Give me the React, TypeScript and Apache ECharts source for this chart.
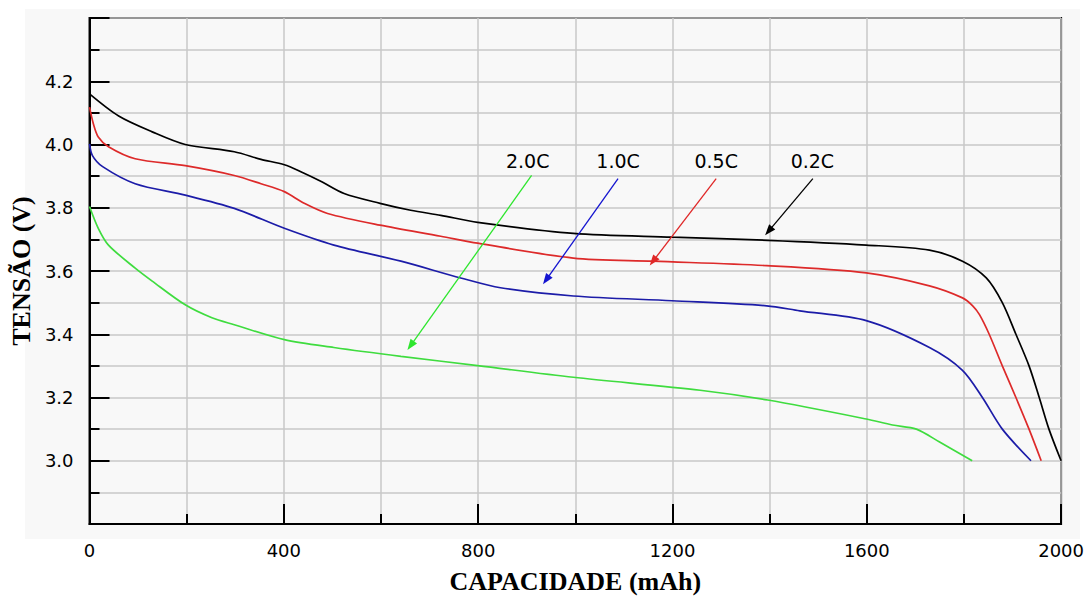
import React, { useEffect, useRef } from "react";
import * as echarts from "echarts";

// Discharge curves: capacity (mAh) and voltage (V)
const c02 = [0, 60, 129, 197, 298, 353, 401, 435, 477, 524, 598, 661, 723, 799, 996, 1199, 1396, 1599, 1729, 1797, 1846, 1879, 1907, 1934, 1955, 1975, 2000];
const v02 = [4.16, 4.09, 4.04, 4.0, 3.977, 3.953, 3.936, 3.914, 3.883, 3.845, 3.814, 3.792, 3.776, 3.754, 3.719, 3.707, 3.697, 3.682, 3.666, 3.631, 3.578, 3.5, 3.4, 3.3, 3.2, 3.1, 3.0];

const c05 = [0, 8, 18, 39, 94, 197, 298, 353, 401, 442, 490, 598, 723, 799, 996, 1160, 1394, 1599, 1729, 1797, 1818, 1832, 1852, 1879, 1907, 1934, 1959];
const v05 = [4.118, 4.065, 4.024, 3.993, 3.955, 3.933, 3.902, 3.876, 3.851, 3.814, 3.782, 3.745, 3.71, 3.688, 3.641, 3.631, 3.617, 3.594, 3.553, 3.515, 3.49, 3.462, 3.4, 3.3, 3.2, 3.1, 3.0];

const c10 = [0, 6, 27, 94, 197, 298, 401, 503, 641, 764, 846, 996, 1199, 1394, 1462, 1599, 1729, 1797, 1838, 1879, 1938];
const v10 = [4.002, 3.965, 3.93, 3.876, 3.84, 3.798, 3.735, 3.682, 3.631, 3.578, 3.547, 3.521, 3.506, 3.49, 3.474, 3.443, 3.358, 3.286, 3.2, 3.1, 3.0];

const c20 = [0, 18, 39, 94, 129, 197, 252, 298, 401, 503, 641, 799, 996, 1257, 1396, 1599, 1653, 1702, 1749, 1817];
const v20 = [3.804, 3.735, 3.682, 3.609, 3.568, 3.493, 3.452, 3.43, 3.383, 3.358, 3.33, 3.301, 3.264, 3.223, 3.192, 3.132, 3.113, 3.1, 3.06, 3.0];

const rateNames = ["0.2C", "0.5C", "1.0C", "2.0C"];
const rateColors = ["#000000", "#dd2a2a", "#1c1ca8", "#3fdc3f"];
const arrowColors = ["#000000", "#e02828", "#1414d0", "#2ee62e"];

// Annotation label positions [capacity, voltage]
const labelX = [1488, 1290, 1088, 902];
const labelY = [3.949, 3.949, 3.949, 3.949];

// Arrow start/end [capacity, voltage]
const arrowFromX = [1489, 1290, 1088, 910];
const arrowFromY = [3.892, 3.892, 3.892, 3.902];
const arrowToX = [1398, 1160, 940, 661];
const arrowToY = [3.726, 3.631, 3.572, 3.364];

const xTicks = [0, 400, 800, 1200, 1600, 2000];
const yTicks = [3.0, 3.2, 3.4, 3.6, 3.8, 4.0, 4.2];

const zip = (xs: number[], ys: number[]) => xs.map((x, i) => [x, ys[i]]);

export default function App() {
  const ref = useRef<HTMLDivElement>(null);

  useEffect(() => {
    if (!ref.current) return;
    const chart = echarts.init(ref.current, null, { renderer: "svg" });

    const curves = [zip(c02, v02), zip(c05, v05), zip(c10, v10), zip(c20, v20)];

    const lineSeries = curves.map((d, i) => ({
      name: rateNames[i],
      type: "line",
      data: d,
      showSymbol: false,
      smooth: 0.3,
      lineStyle: { color: rateColors[i], width: 1.7 },
      itemStyle: { color: rateColors[i] },
      z: 3,
    }));

    const arrowSeries = {
      type: "line",
      data: [],
      markLine: {
        silent: true,
        symbol: ["none", "triangle"],
        symbolSize: [8, 11],
        label: { show: false },
        lineStyle: { type: "solid", width: 1.3 },
        data: rateNames.map((_, i) => [
          {
            coord: [arrowFromX[i], arrowFromY[i]],
            lineStyle: { color: arrowColors[i], type: "solid", width: 1.3 },
            itemStyle: { color: arrowColors[i] },
          },
          { coord: [arrowToX[i], arrowToY[i]] },
        ]),
      },
      z: 4,
    };

    const labelSeries = {
      type: "scatter",
      symbolSize: 0,
      itemStyle: { opacity: 1 },
      data: rateNames.map((n, i) => [labelX[i], labelY[i], n]),
      label: {
        show: true,
        position: "inside",
        opacity: 1,
        formatter: (p: any) => p.data[2],
        color: "#000",
        fontSize: 19,
        fontFamily: "DejaVu Sans",
      },
      z: 5,
    };

    const tickLabelStyle = {
      color: "#000",
      fontSize: 18,
      fontFamily: "DejaVu Sans",
    };
    const nameStyle = {
      color: "#000",
      fontSize: 26,
      fontWeight: "bold",
      fontFamily: "Liberation Serif",
    };
    const gridLine = { show: true, lineStyle: { color: "#c8c8c8", width: 1.5 } };

    chart.setOption({
      animation: false,
      backgroundColor: "#ffffff",
      graphic: [
        {
          type: "rect",
          shape: { x: 25, y: 9, width: 1055, height: 530 },
          style: { fill: "#f8f8f8" },
          z: -10,
          silent: true,
        },
      ],
      grid: {
        left: 88,
        right: 25,
        top: 18,
        bottom: 71,
        show: true,
        backgroundColor: "#f8f8f8",
        borderColor: "#000",
        borderWidth: 2,
      },
      xAxis: {
        type: "value",
        min: 0,
        max: 2000,
        interval: 400,
        name: "CAPACIDADE (mAh)",
        nameLocation: "middle",
        nameGap: 44,
        nameTextStyle: nameStyle,
        axisLine: { show: true, lineStyle: { color: "#000", width: 2 } },
        axisTick: { show: true, inside: true, length: 20, lineStyle: { color: "#000", width: 2 } },
        minorTick: { show: true, splitNumber: 2, length: 10, lineStyle: { color: "#000", width: 2 } },
        axisLabel: {
          ...tickLabelStyle,
          margin: 17,
          formatter: (v: number) => (xTicks.includes(v) ? String(v) : ""),
        },
        splitLine: gridLine,
        minorSplitLine: gridLine,
      },
      yAxis: {
        type: "value",
        min: 2.8,
        max: 4.4,
        interval: 0.2,
        name: "TENSÃO (V)",
        nameLocation: "middle",
        nameGap: 52,
        nameTextStyle: nameStyle,
        axisLine: { show: true, lineStyle: { color: "#000", width: 2 } },
        axisTick: { show: true, inside: true, length: 20, lineStyle: { color: "#000", width: 2 } },
        minorTick: { show: true, splitNumber: 2, length: 10, lineStyle: { color: "#000", width: 2 } },
        axisLabel: {
          ...tickLabelStyle,
          margin: 16,
          showMinLabel: false,
          showMaxLabel: false,
          formatter: (v: number) => {
            const r = Math.round(v * 10) / 10;
            return yTicks.some((t) => Math.abs(t - r) < 1e-6) ? r.toFixed(1) : "";
          },
        },
        splitLine: gridLine,
        minorSplitLine: gridLine,
      },
      series: [...lineSeries, arrowSeries, labelSeries],
    });

    return () => chart.dispose();
  }, []);

  return (
    <div
      ref={ref}
      style={{ position: "fixed", left: 0, top: 0, width: 1087, height: 599 }}
    />
  );
}
